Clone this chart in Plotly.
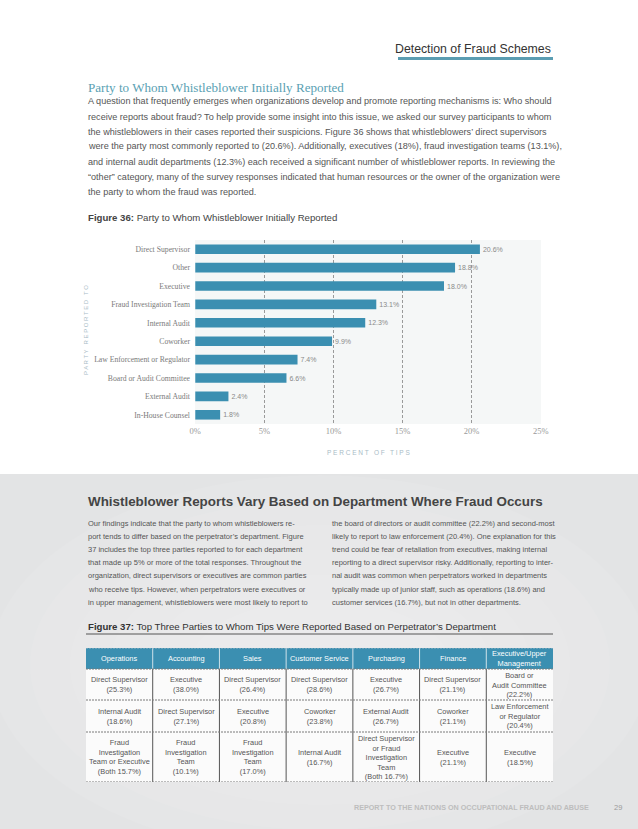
import plotly.graph_objects as go

W, H = 638, 829

# ---------------- data ----------------
categories = ["Direct Supervisor", "Other", "Executive", "Fraud Investigation Team",
              "Internal Audit", "Coworker", "Law Enforcement or Regulator",
              "Board or Audit Committee", "External Audit", "In-House Counsel"]
percent_of_tips = [20.6, 18.8, 18.0, 13.1, 12.3, 9.9, 7.4, 6.6, 2.4, 1.8]
x_tick_values = [0, 5, 10, 15, 20, 25]
x_tick_labels = ["0%", "5%", "10%", "15%", "20%", "25%"]

departments = ["Operations", "Accounting", "Sales", "Customer Service", "Purchasing",
               "Finance", "Executive/Upper<br>Management"]
first_party = ["Direct Supervisor<br>(25.3%)", "Executive<br>(38.0%)", "Direct Supervisor<br>(26.4%)",
               "Direct Supervisor<br>(28.6%)", "Executive<br>(26.7%)", "Direct Supervisor<br>(21.1%)",
               "Board or<br>Audit Committee<br>(22.2%)"]
second_party = ["Internal Audit<br>(18.6%)", "Direct Supervisor<br>(27.1%)", "Executive<br>(20.8%)",
                "Coworker<br>(23.8%)", "External Audit<br>(26.7%)", "Coworker<br>(21.1%)",
                "Law Enforcement<br>or Regulator<br>(20.4%)"]
third_party = ["Fraud<br>Investigation<br>Team or Executive<br>(Both 15.7%)",
               "Fraud<br>Investigation<br>Team<br>(10.1%)",
               "Fraud<br>Investigation<br>Team<br>(17.0%)",
               "Internal Audit<br>(16.7%)",
               "Direct Supervisor<br>or Fraud<br>Investigation<br>Team<br>(Both 16.7%)",
               "Executive<br>(21.1%)", "Executive<br>(18.5%)"]

intro_lines = [
    "A question that frequently emerges when organizations develop and promote reporting mechanisms is: Who should",
    "receive reports about fraud? To help provide some insight into this issue, we asked our survey participants to whom",
    "the whistleblowers in their cases reported their suspicions. Figure 36 shows that whistleblowers’ direct supervisors",
    "were the party most commonly reported to (20.6%). Additionally, executives (18%), fraud investigation teams (13.1%),",
    "and internal audit departments (12.3%) each received a significant number of whistleblower reports. In reviewing the",
    "“other” category, many of the survey responses indicated that human resources or the owner of the organization were",
    "the party to whom the fraud was reported.",
]
left_col_lines = [
    "Our findings indicate that the party to whom whistleblowers re-",
    "port tends to differ based on the perpetrator’s department. Figure",
    "37 includes the top three parties reported to for each department",
    "that made up 5% or more of the total responses. Throughout the",
    "organization, direct supervisors or executives are common parties",
    "who receive tips. However, when perpetrators were executives or",
    "in upper management, whistleblowers were most likely to report to",
]
right_col_lines = [
    "the board of directors or audit committee (22.2%) and second-most",
    "likely to report to law enforcement (20.4%). One explanation for this",
    "trend could be fear of retaliation from executives, making internal",
    "reporting to a direct supervisor risky. Additionally, reporting to inter-",
    "nal audit was common when perpetrators worked in departments",
    "typically made up of junior staff, such as operations (18.6%) and",
    "customer services (16.7%), but not in other departments.",
]

# ---------------- styles ----------------
SANS = "Liberation Sans, Arial, sans-serif"
SERIF = "Liberation Serif, Times New Roman, serif"
TEAL = "#3b8fb1"


def X(px):
    return px / W


def Y(py):
    return 1 - py / H


fig = go.Figure()

# ---------------- bar chart (Figure 36) ----------------
fig.add_trace(go.Bar(
    x=percent_of_tips, y=categories, orientation="h",
    marker=dict(color=TEAL, line=dict(width=0)), width=0.52,
    texttemplate="%{x:.1f}%", textposition="outside", cliponaxis=False,
    textfont=dict(family=SANS, size=7, color="#8a8a8a"),
    hoverinfo="skip", showlegend=False, xaxis="x", yaxis="y",
))

# ---------------- table (Figure 37) via its own axes ----------------
table_rows = [departments, first_party, second_party, third_party]
row_edges = [0, 21, 52, 84, 134]
ncol = len(departments)

shapes = []
annotations = []

# page background for the lower section
shapes.append(dict(type="rect", xref="paper", yref="paper", x0=0, x1=1, y0=0, y1=Y(474),
                   fillcolor="#e3e4e5", line=dict(width=0), layer="below"))
for rx, ry in [(330, 190), (290, 165), (250, 140), (210, 115), (170, 90), (130, 65)]:
    cx, cy = 320, 665
    shapes.append(dict(type="circle", xref="paper", yref="paper",
                       x0=X(cx - rx), x1=X(cx + rx), y0=Y(cy + ry), y1=Y(cy - ry),
                       fillcolor="rgba(255,255,255,0.075)", line=dict(width=0), layer="below"))

# header + body fills
shapes.append(dict(type="rect", xref="x2", yref="y2", x0=0, x1=ncol, y0=row_edges[0], y1=row_edges[1],
                   fillcolor=TEAL, line=dict(width=0), layer="above"))
shapes.append(dict(type="rect", xref="x2", yref="y2", x0=0, x1=ncol, y0=row_edges[1], y1=row_edges[-1],
                   fillcolor="#fbfbfb", line=dict(width=0), layer="above"))
# vertical separators
for c in range(1, ncol):
    shapes.append(dict(type="line", xref="x2", yref="y2", x0=c, x1=c, y0=row_edges[0], y1=row_edges[1],
                       line=dict(color="#cfe2ea", width=1), layer="above"))
    shapes.append(dict(type="line", xref="x2", yref="y2", x0=c, x1=c, y0=row_edges[1], y1=row_edges[-1],
                       line=dict(color="#555555", width=1), layer="above"))
# horizontal dashed separators
for i, e in enumerate(row_edges):
    shapes.append(dict(type="line", xref="x2", yref="y2", x0=0, x1=ncol, y0=e, y1=e,
                       line=dict(color="#9fb8c4" if i == 0 else "#7a7a7a", width=1, dash="2px,1px"),
                       layer="above"))
# cell texts
for r, row in enumerate(table_rows):
    for c, txt in enumerate(row):
        annotations.append(dict(
            xref="x2", yref="y2", x=c + 0.5, y=(row_edges[r] + row_edges[r + 1]) / 2,
            text=txt, showarrow=False, xanchor="center", yanchor="middle", align="center",
            font=dict(family=SANS, size=7.4, color="white" if r == 0 else "#555555"),
        ))


# ---------------- page texts ----------------
def note(x, y, text, size, color, family, xanchor="left", **kw):
    annotations.append(dict(xref="paper", yref="paper", x=X(x), y=Y(y), text=text, showarrow=False,
                            xanchor=xanchor, yanchor="middle", align="left",
                            font=dict(family=family, size=size, color=color), **kw))


note(553, 49, "Detection of Fraud Schemes", 12.3, "#333333", SANS, xanchor="right")
shapes.append(dict(type="line", xref="paper", yref="paper", x0=X(398), x1=X(553), y0=Y(58.5), y1=Y(58.5),
                   line=dict(color="#5b9db2", width=3)))
note(86, 87, "Party to Whom Whistleblower Initially Reported", 13.1, "#5a9fb3", SERIF)
for i, line in enumerate(intro_lines):
    note(86, 101.5 + 15 * i, line, 9.1, "#555555", SANS)

note(86, 217, "<b>Figure 36:</b> Party to Whom Whistleblower Initially Reported", 9.65, "#444444", SANS)

note(86, 330, "P A R T Y   R E P O R T E D   T O", 6, "#a9bcc6", SANS, xanchor="center", textangle=-90)
note(368, 452, "P E R C E N T   O F   T I P S", 6.5, "#a9bcc6", SANS, xanchor="center")

note(86, 502, "<b>Whistleblower Reports Vary Based on Department Where Fraud Occurs</b>", 13.4, "#444444", SANS)
for i, line in enumerate(left_col_lines):
    note(86, 523 + 13.2 * i, line, 7.5, "#555555", SANS)
for i, line in enumerate(right_col_lines):
    note(330, 523 + 13.2 * i, line, 7.5, "#555555", SANS)

note(86, 626, "<b>Figure 37:</b> Top Three Parties to Whom Tips Were Reported Based on Perpetrator’s Department",
     9.65, "#333333", SANS)
shapes.append(dict(type="line", xref="paper", yref="paper", x0=X(86), x1=X(553), y0=Y(634), y1=Y(634),
                   line=dict(color="#555555", width=1)))

note(352, 807, "<b>REPORT TO THE NATIONS ON OCCUPATIONAL FRAUD AND ABUSE</b>", 7.2, "#bdbdbd", SANS)
note(612, 807, "29", 7.5, "#9a9a9a", SANS)

# ---------------- layout ----------------
fig.update_layout(
    width=W, height=H, margin=dict(l=0, r=0, t=0, b=0, pad=0),
    paper_bgcolor="white", plot_bgcolor="#f5f7f7",
    showlegend=False,
    xaxis=dict(domain=[X(195), X(541)], range=[-0.02, 25.02], tickvals=x_tick_values, ticktext=x_tick_labels,
               showgrid=True, gridcolor="#9a9a9a", gridwidth=1, griddash="3px,2px", zeroline=False,
               showline=False, ticks="", fixedrange=True, automargin=False,
               tickfont=dict(family=SERIF, size=8.5, color="#9a9a9a")),
    yaxis=dict(domain=[Y(424), Y(240)], categoryorder="array", categoryarray=categories,
               range=[len(categories) - 0.5, -0.5], showgrid=False, zeroline=False, ticks="",
               ticklabelstandoff=4, fixedrange=True, automargin=False,
               tickfont=dict(family=SERIF, size=7.7, color="#7a7a7a")),
    xaxis2=dict(domain=[X(86), X(553)], range=[0, ncol], visible=False, fixedrange=True,
                automargin=False, anchor="y2"),
    yaxis2=dict(domain=[Y(782), Y(648)], range=[row_edges[-1], row_edges[0]], visible=False,
                fixedrange=True, anchor="x2", automargin=False),
    shapes=shapes, annotations=annotations,
)
# empty anchor trace so the table axes exist
fig.add_trace(go.Scatter(x=[None], y=[None], xaxis="x2", yaxis="y2", showlegend=False, hoverinfo="skip"))

fig.write_html("out.html", config={"displayModeBar": False},
               post_script="document.body.style.margin='0px';")
